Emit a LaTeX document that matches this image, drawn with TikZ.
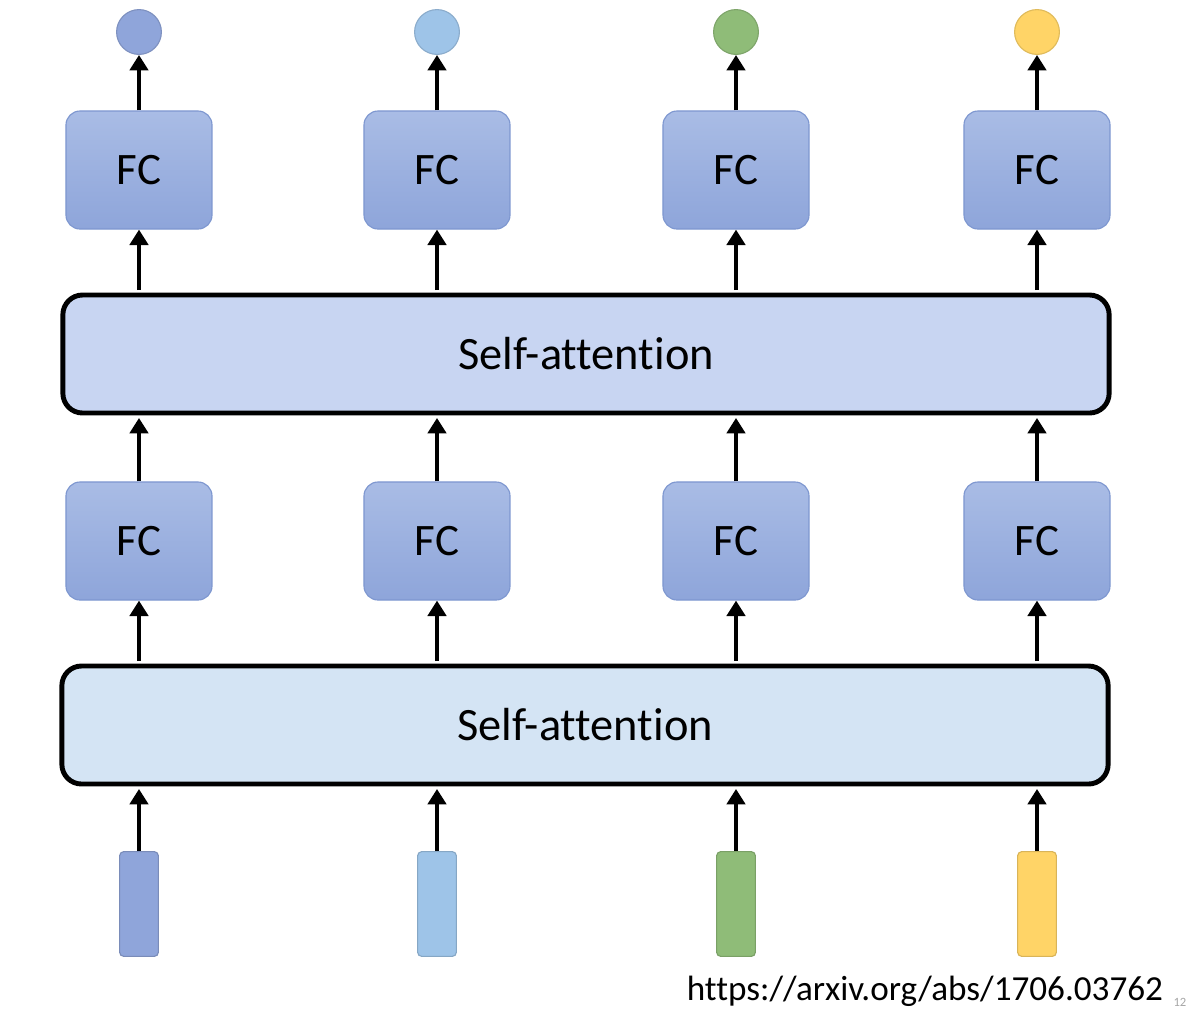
\documentclass[tikz,border=0pt]{standalone}
\usepackage{fontspec}
\setmainfont{Carlito}[Ligatures=NoCommon]
\usetikzlibrary{arrows.meta,positioning}
\definecolor{fctop}{HTML}{A9BCE5}
\definecolor{fcbot}{HTML}{8EA5DA}
\definecolor{fcedge}{HTML}{7E97D0}
\definecolor{satop}{HTML}{C8D5F2}
\definecolor{sabot}{HTML}{D4E4F4}
\definecolor{vblue}{HTML}{8FA5DA}
\definecolor{vsky}{HTML}{9EC4E8}
\definecolor{vgreen}{HTML}{8FBC78}
\definecolor{vyellow}{HTML}{FFD467}
\tikzset{
  fcbox/.style={draw=fcedge,line width=0.8pt,rounded corners=10pt,top color=fctop,bottom color=fcbot,minimum width=3.65cm,minimum height=2.95cm,font=\fontsize{32}{38}\selectfont},
  sabox/.style={draw=black,line width=3.5pt,rounded corners=14pt,fill=#1,minimum width=26.15cm,minimum height=2.95cm,font=\fontsize{33}{40}\selectfont},
  vec/.style={draw=#1!85!black,fill=#1,rounded corners=3pt,minimum width=0.97cm,minimum height=2.62cm,inner sep=0pt,line width=0.8pt},
  outc/.style={circle,draw=#1!88!black,fill=#1,minimum size=1.12cm,inner sep=0pt,line width=0.8pt},
  arr/.style={-{Triangle[length=11pt,width=13pt]},line width=3.2pt,draw=black},
}
\begin{document}
\begin{tikzpicture}[x=0.025cm,y=-0.025cm]
  \useasboundingbox (0,0) rectangle (1189,1009);
  % two self-attention layers
  \node[sabox=sabot] (sa1) at (585,725) {Self-attention};
  \node[sabox=satop] (sa2) at (586,354) {Self-attention};
  % columns
  \foreach \i/\x/\c in {1/139/vblue,2/437/vsky,3/736/vgreen,4/1037/vyellow} {
    \node[vec=\c] (in\i) at (\x,904) {};
    \node[fcbox] (fca\i) at (\x,541) {FC};
    \node[fcbox] (fcb\i) at (\x,170) {FC};
    \node[outc=\c] (out\i) at (\x,32) {};
    \draw[arr,shorten >=1.75pt] (in\i) -- (in\i |- sa1.south);
    \draw[arr,shorten <=1.75pt] (sa1.north -| fca\i) -- (fca\i);
    \draw[arr,shorten >=1.75pt] (fca\i) -- (fca\i |- sa2.south);
    \draw[arr,shorten <=1.75pt] (sa2.north -| fcb\i) -- (fcb\i);
    \draw[arr] (fcb\i) -- (out\i);
  }
  % source
  \node[font=\fontsize{25}{30}\selectfont,anchor=base east] (url) at (1168,1000) {https://arxiv.org/abs/1706.03762};
  \node[font=\fontsize{9}{11}\selectfont,text=gray!70,anchor=base east,inner sep=1pt] (pg) at (1188,1006) {12};
\end{tikzpicture}
\end{document}
